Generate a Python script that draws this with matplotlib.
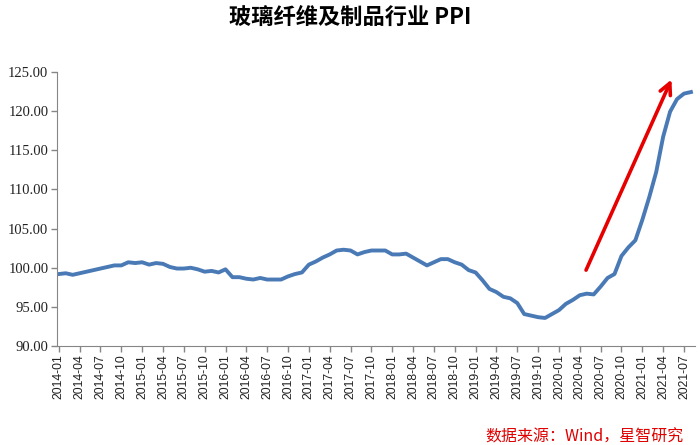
import numpy as np
import matplotlib.pyplot as plt

plt.rcParams['font.family'] = ['Noto Sans CJK SC', 'DejaVu Sans']

# monthly PPI, 2014-01 .. 2021-08
months = [f'{y}-{m:02d}' for y in range(2014, 2022) for m in range(1, 13)][:92]
ppi = [99.2, 99.3, 99.1, 99.3, 99.5, 99.7, 99.9, 100.1, 100.3, 100.3,
       100.7, 100.6, 100.7, 100.4, 100.6, 100.5, 100.1, 99.9, 99.9, 100.0,
       99.8, 99.5, 99.6, 99.4, 99.8, 98.8, 98.8, 98.6, 98.5, 98.7,
       98.5, 98.5, 98.5, 98.9, 99.2, 99.4, 100.4, 100.8, 101.3, 101.7,
       102.2, 102.3, 102.2, 101.7, 102.0, 102.2, 102.2, 102.2, 101.7, 101.7,
       101.8, 101.3, 100.8, 100.3, 100.7, 101.1, 101.1, 100.7, 100.4, 99.7,
       99.4, 98.4, 97.3, 96.9, 96.3, 96.1, 95.5, 94.1, 93.9, 93.7,
       93.6, 94.1, 94.6, 95.4, 95.9, 96.5, 96.7, 96.6, 97.6, 98.7,
       99.2, 101.5, 102.6, 103.5, 106.1, 109.0, 112.2, 116.7, 119.9, 121.5,
       122.2, 122.4]
yticks = [90, 95, 100, 105, 110, 115, 120, 125]

# red trend arrow (month index, value)
arrow_start = (75.9, 99.7)
arrow_end = (88.2, 124.0)

fig = plt.figure(figsize=(7, 4.45), dpi=100)
ax = fig.add_axes([0.081, 0.222, 0.912, 0.617])

x = np.arange(len(months))
ax.plot(x, ppi, color='#4a7ab5', lw=2.8, solid_joinstyle='round')

ax.annotate('', xy=arrow_end, xytext=arrow_start,
            arrowprops=dict(arrowstyle='->', color='#e60000', lw=2.6,
                            mutation_scale=20, shrinkA=0, shrinkB=0))

ax.set_ylim(90, 125)
ax.set_xlim(-0.3, 91.6)
ax.set_yticks(yticks)
ax.set_yticklabels([f'{v:.2f}' for v in yticks], family='Liberation Serif', fontsize=10.5)
ax.set_xticks(x[::3])
ax.set_xticklabels(months[::3], rotation=90, family='Liberation Sans', fontsize=8.8)

for s in ['top', 'right']:
    ax.spines[s].set_visible(False)
for s in ['left', 'bottom']:
    ax.spines[s].set_color('#868686')
ax.tick_params(axis='both', color='#868686', length=4, width=1, pad=2, labelcolor='#222222')

fig.text(0.5, 0.962, '玻璃纤维及制品行业 PPI', ha='center', va='center',
         fontsize=16, fontweight='bold')
fig.text(0.976, 0.018, '数据来源：Wind，星智研究', ha='right', va='center',
         fontsize=11.5, color='#e00000', style='italic')

fig.savefig('out.png')
